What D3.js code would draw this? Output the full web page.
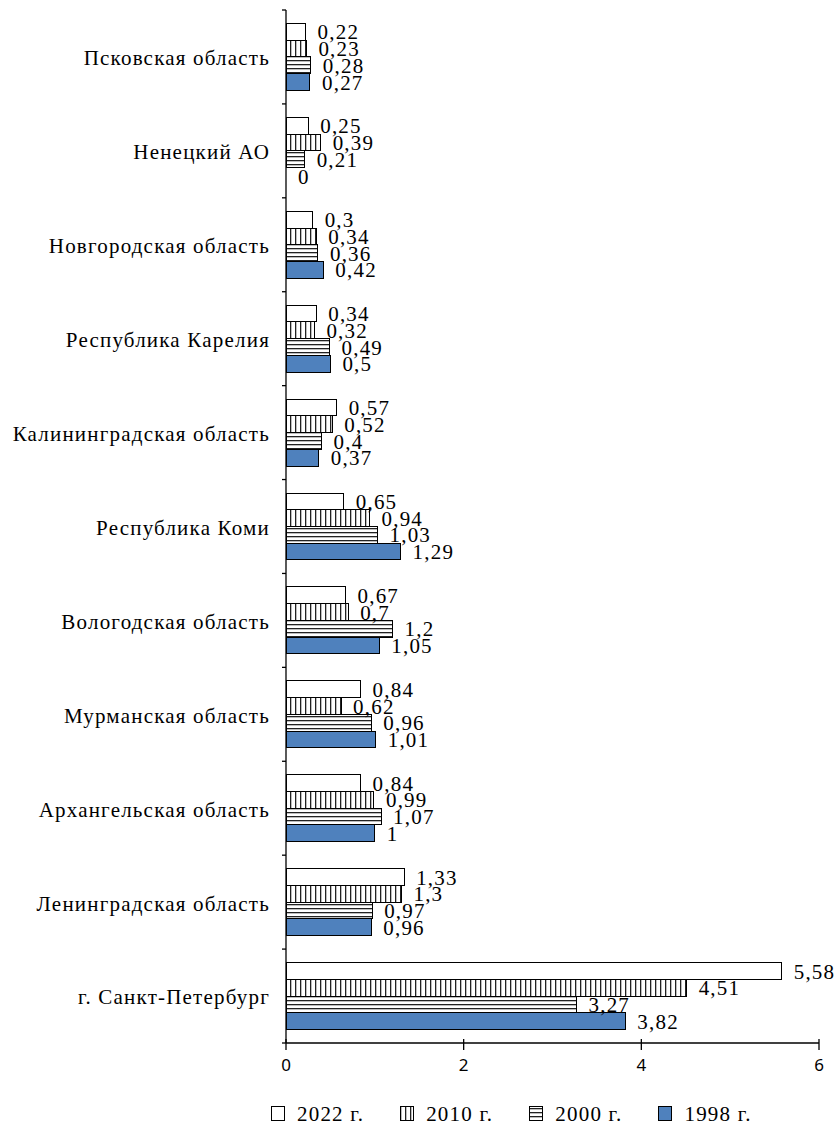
<!DOCTYPE html>
<html>
<head>
<meta charset="utf-8">
<script src="https://cdn.jsdelivr.net/npm/d3@7"></script>
<style>
  html, body { margin: 0; padding: 0; background: #fff; }
  svg { display: block; }
</style>
</head>
<body>
<svg id="chart" width="834" height="1126"></svg>
<script>
// ---- data ----
const categories = [
  "Псковская область",
  "Ненецкий АО",
  "Новгородская область",
  "Республика Карелия",
  "Калининградская область",
  "Республика Коми",
  "Вологодская область",
  "Мурманская область",
  "Архангельская область",
  "Ленинградская область",
  "г. Санкт-Петербург"
];
const seriesNames = ["2022 г.", "2010 г.", "2000 г.", "1998 г."];
const values2022 = [0.22, 0.25, 0.3, 0.34, 0.57, 0.65, 0.67, 0.84, 0.84, 1.33, 5.58];
const values2010 = [0.23, 0.39, 0.34, 0.32, 0.52, 0.94, 0.7, 0.62, 0.99, 1.3, 4.51];
const values2000 = [0.28, 0.21, 0.36, 0.49, 0.4, 1.03, 1.2, 0.96, 1.07, 0.97, 3.27];
const values1998 = [0.27, 0, 0.42, 0.5, 0.37, 1.29, 1.05, 1.01, 1, 0.96, 3.82];
const xTicks = [0, 2, 4, 6];

const seriesValues = [values2022, values2010, values2000, values1998];

// ---- layout ----
const svg = d3.select("#chart");
const mLeft = 286, mRight = 819, mTop = 10, mBottom = 1043;
const serif = "'Liberation Serif', 'Times New Roman', serif";
const sans = "'Noto Sans', 'DejaVu Sans', sans-serif";
const fs = 21;
const ls = 1.2;

const x = d3.scaleLinear().domain([0, 6]).range([mLeft, mRight]);
const y0 = d3.scaleBand().domain(categories).range([mTop, mBottom]).padding(0);
const groupPad = 13.5;
const y1 = d3.scaleBand().domain(seriesNames).range([groupPad, y0.bandwidth() - groupPad]).padding(0);

// ---- patterns ----
const defs = svg.append("defs");
const pv = defs.append("pattern").attr("id", "pat-vert")
  .attr("patternUnits", "userSpaceOnUse").attr("width", 5).attr("height", 4);
pv.append("rect").attr("width", 5).attr("height", 4).attr("fill", "#fff");
pv.append("rect").attr("x", 0).attr("y", 0).attr("width", 1.3).attr("height", 4).attr("fill", "#222");
const ph = defs.append("pattern").attr("id", "pat-horiz")
  .attr("patternUnits", "userSpaceOnUse").attr("width", 4).attr("height", 4);
ph.append("rect").attr("width", 4).attr("height", 4).attr("fill", "#fff");
ph.append("rect").attr("x", 0).attr("y", 0).attr("width", 4).attr("height", 1.3).attr("fill", "#222");

const fills = {
  "2022 г.": "#ffffff",
  "2010 г.": "url(#pat-vert)",
  "2000 г.": "url(#pat-horiz)",
  "1998 г.": "#4f81bd"
};

// ---- bars ----
const rows = [];
categories.forEach((c, i) => {
  seriesNames.forEach((s, j) => {
    rows.push({ cat: c, series: s, value: seriesValues[j][i] });
  });
});

const g = svg.append("g");
g.selectAll("rect.bar").data(rows).join("rect")
  .attr("class", "bar")
  .attr("x", x(0))
  .attr("y", d => y0(d.cat) + y1(d.series))
  .attr("width", d => x(d.value) - x(0))
  .attr("height", y1.bandwidth())
  .attr("fill", d => fills[d.series])
  .attr("stroke", "#000")
  .attr("stroke-width", 1)
  .attr("shape-rendering", "crispEdges");

// value labels
const fmt = v => String(v).replace(".", ",");
g.selectAll("text.val").data(rows).join("text")
  .attr("class", "val")
  .attr("x", d => x(d.value) + 12)
  .attr("y", d => y0(d.cat) + y1(d.series) + y1.bandwidth() / 2)
  .attr("dy", "0.36em")
  .attr("font-family", serif)
  .attr("font-size", fs)
  .attr("letter-spacing", ls)
  .attr("fill", "#000")
  .text(d => fmt(d.value));

// ---- y axis ----
svg.append("line")
  .attr("x1", mLeft).attr("x2", mLeft).attr("y1", mTop).attr("y2", mBottom)
  .attr("stroke", "#000").attr("stroke-width", 1.3);
const bounds = categories.map(c => y0(c)).concat([mBottom]);
svg.selectAll("line.ytick").data(bounds).join("line")
  .attr("class", "ytick")
  .attr("x1", mLeft - 4).attr("x2", mLeft)
  .attr("y1", d => d).attr("y2", d => d)
  .attr("stroke", "#000").attr("stroke-width", 1.3);
svg.selectAll("text.cat").data(categories).join("text")
  .attr("class", "cat")
  .attr("x", mLeft - 16)
  .attr("y", d => y0(d) + y0.bandwidth() / 2)
  .attr("dy", "0.4em")
  .attr("text-anchor", "end")
  .attr("font-family", serif)
  .attr("font-size", fs)
  .attr("letter-spacing", ls)
  .attr("fill", "#000")
  .text(d => d);

// ---- x axis ----
svg.append("line")
  .attr("x1", mLeft).attr("x2", mRight).attr("y1", mBottom).attr("y2", mBottom)
  .attr("stroke", "#000").attr("stroke-width", 1.3);
svg.selectAll("line.xtick").data(xTicks).join("line")
  .attr("class", "xtick")
  .attr("x1", d => x(d)).attr("x2", d => x(d))
  .attr("y1", mBottom - 4).attr("y2", mBottom + 7)
  .attr("stroke", "#000").attr("stroke-width", 1.3);
svg.selectAll("text.xlab").data(xTicks).join("text")
  .attr("class", "xlab")
  .attr("x", d => x(d))
  .attr("y", mBottom + 22)
  .attr("dy", "0.35em")
  .attr("text-anchor", "middle")
  .attr("font-family", sans)
  .attr("font-size", 17)
  .attr("fill", "#000")
  .text(d => d);

// ---- legend ----
const legend = svg.append("g");
let lx = 271;
const ly = 1113;
seriesNames.forEach(s => {
  legend.append("rect")
    .attr("x", lx).attr("y", ly - 7).attr("width", 13).attr("height", 14)
    .attr("fill", fills[s]).attr("stroke", "#000").attr("stroke-width", 1)
    .attr("shape-rendering", "crispEdges");
  const t = legend.append("text")
    .attr("x", lx + 26).attr("y", ly).attr("dy", "0.36em")
    .attr("font-family", serif).attr("font-size", fs)
    .attr("letter-spacing", ls).attr("fill", "#000")
    .text(s);
  lx += 26 + t.node().getComputedTextLength() + 36;
});
</script>
</body>
</html>
